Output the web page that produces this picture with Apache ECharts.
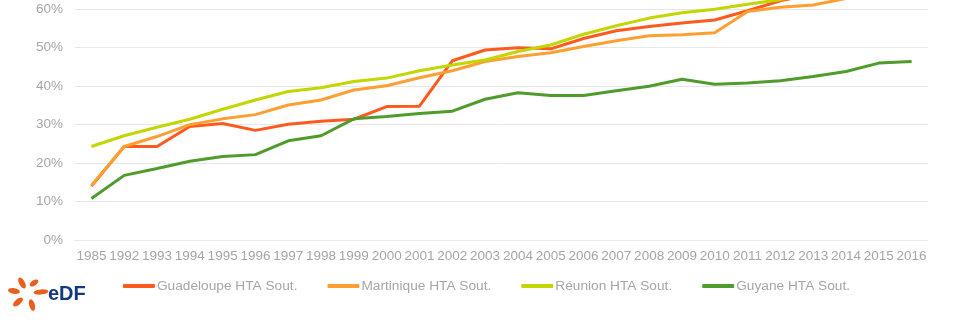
<!DOCTYPE html>
<html>
<head>
<meta charset="utf-8">
<script src="https://cdn.jsdelivr.net/npm/echarts@6/dist/echarts.min.js"></script>
<style>
html,body{margin:0;padding:0;background:#fff;}
#chart{width:973px;height:333px;}
</style>
</head>
<body>
<div id="chart"></div>
<script>
const years = ['1985','1992','1993','1994','1995','1996','1997','1998','1999','2000','2001','2002','2003','2004','2005','2006','2007','2008','2009','2010','2011','2012','2013','2014','2015','2016'];
const guadeloupe = [14.0,24.3,24.3,29.5,30.3,28.5,30.1,30.9,31.4,34.7,34.8,46.6,49.4,50.0,49.7,52.4,54.4,55.5,56.4,57.2,59.6,62.2,64.0,65.5,66.5,67.5];
const martinique = [14.2,24.3,26.9,30.0,31.5,32.6,35.1,36.4,39.0,40.1,42.2,44.0,46.4,47.7,48.7,50.3,51.8,53.1,53.4,53.9,59.4,60.5,61.1,62.8,64.0,65.0];
const reunion = [24.3,27.1,29.3,31.4,34.0,36.4,38.6,39.6,41.2,42.1,44.0,45.5,46.8,49.0,50.7,53.5,55.7,57.7,59.1,60.0,61.3,62.5,64.0,65.0,66.0,67.0];
const guyane = [10.8,16.8,18.6,20.5,21.7,22.2,25.8,27.1,31.5,32.1,32.9,33.5,36.6,38.3,37.6,37.6,38.8,40.0,41.8,40.5,40.8,41.4,42.5,43.8,46.0,46.4];
const seriesNames = ['Guadeloupe HTA Sout.','Martinique HTA Sout.','Réunion HTA Sout.','Guyane HTA Sout.'];
const seriesData = [guadeloupe, martinique, reunion, guyane];
const colors = ['#FF5A1E','#FF9F32','#C3D600','#4F9C2C'];

const font = '"Liberation Sans", Arial, sans-serif';
const chart = echarts.init(document.getElementById('chart'), null, {renderer:'canvas'});

// EDF logo (decorative)
const petalSpecs = [
  [22,283,6,2.8,-60],
  [14,291,6,2.8,-10],
  [34,283,5,2.6,35],
  [41,292,7.5,2.6,5],
  [18,302,6,2.8,40],
  [32,305,6,2.8,-75]
];
const petals = petalSpecs.map(function(p){
  return {
    type:'ellipse',
    shape:{cx:0, cy:0, rx:p[2], ry:p[3]},
    x:p[0], y:p[1],
    rotation:p[4]*Math.PI/180,
    style:{fill:'#E8601C'}
  };
});

chart.setOption({
  animation:false,
  backgroundColor:'#ffffff',
  color: colors,
  textStyle:{fontFamily:font},
  grid:{left:75, right:45, bottom:93, height:269.2, outerBoundsMode:'none', containLabel:false},
  xAxis:{
    type:'category',
    data: years,
    boundaryGap:true,
    axisLine:{show:true, lineStyle:{color:'#E6E6E6', width:1}},
    axisTick:{show:false},
    axisLabel:{color:'#A6A6A6', fontSize:13.5, margin:9, fontFamily:font, interval:0}
  },
  yAxis:{
    type:'value',
    min:0, max:70, interval:10,
    axisLine:{show:false},
    axisTick:{show:false},
    splitLine:{lineStyle:{color:'#E6E6E6', width:1}},
    axisLabel:{color:'#A6A6A6', fontSize:13.5, margin:12, fontFamily:font, formatter:'{value}%'}
  },
  legend:{
    data: seriesNames,
    left:'center',
    top:274,
    icon:'roundRect',
    itemWidth:32,
    itemHeight:4,
    itemGap:30,
    textStyle:{color:'#A6A6A6', fontSize:13.7, fontFamily:font, padding:[0,0,0,-3]}
  },
  series: seriesNames.map(function(n,i){
    return {
      name:n, type:'line', data:seriesData[i],
      showSymbol:false, symbol:'none',
      lineStyle:{width:3, color:colors[i]},
      itemStyle:{color:colors[i]}
    };
  }),
  graphic:[
    {type:'group', children: petals},
    {type:'text', left:48, top:284, style:{text:'eDF', fill:'#14387F', font:'bold 20px "Liberation Sans", Arial, sans-serif'}}
  ]
});
</script>
</body>
</html>
